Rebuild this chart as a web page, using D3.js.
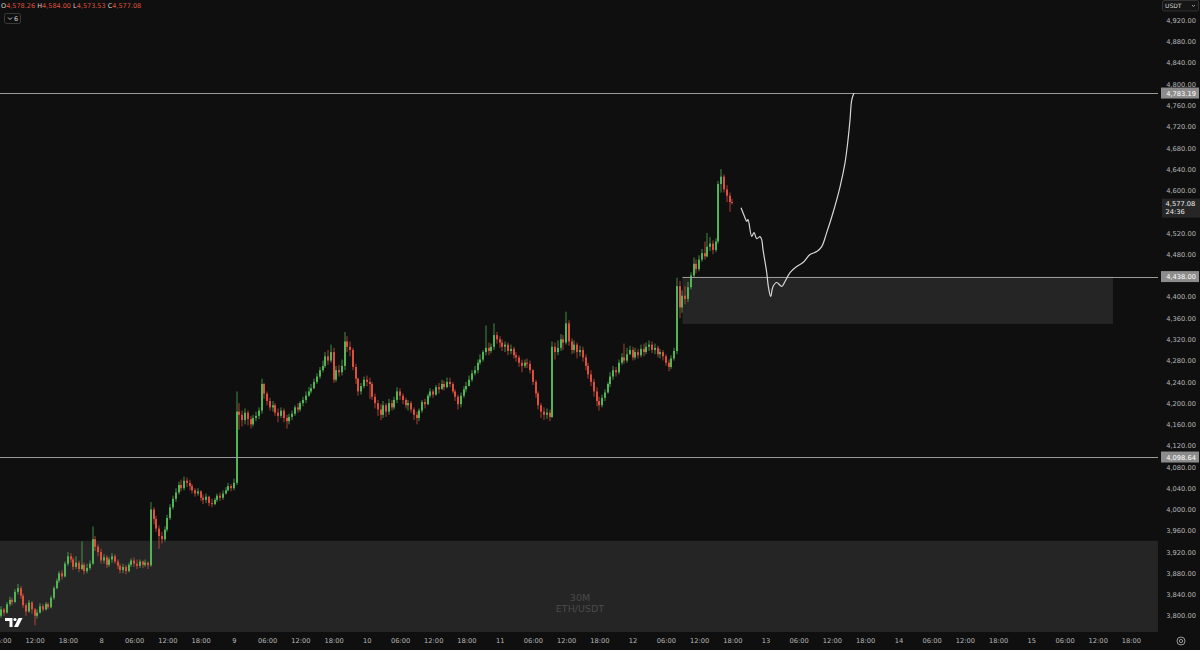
<!DOCTYPE html>
<html><head><meta charset="utf-8">
<script src="https://cdn.jsdelivr.net/npm/d3@7"></script>
<style>
html,body{margin:0;padding:0;background:#0f0f0f;overflow:hidden}
svg{display:block}
text{font-family:"DejaVu Sans",sans-serif}
</style></head><body>
<svg id="chart" width="1200" height="650"></svg>
<script>
// ---------------- DATA ----------------
const symbol = "ETH/USDT";
const interval = "30M";
const quote = "USDT";
const firstCandle = "2025-08-07T05:30:00Z";
const candleMinutes = 30;
const firstOpen = 3790;
const closes = [
3800,3812,3806,3822,3830,3826,3845,3852,3838,3820,
3808,3825,3812,3800,3806,3818,3812,3822,3816,3834,
3852,3866,3880,3874,3898,3912,3906,3892,3900,3888,
3896,3884,3890,3898,3944,3930,3920,3904,3910,3896,
3906,3912,3902,3894,3886,3892,3884,3896,3904,3898,
3894,3902,3896,3900,3895,4000,3982,3964,3950,3944,
3962,3984,4004,4020,4032,4046,4040,4054,4050,4044,
4036,4030,4034,4022,4018,4024,4012,4010,4018,4026,
4022,4030,4036,4044,4040,4050,4184,4178,4168,4182,
4170,4160,4172,4176,4186,4236,4218,4204,4192,4196,
4182,4176,4186,4172,4166,4174,4180,4192,4188,4200,
4206,4214,4222,4228,4240,4250,4262,4270,4288,4280,
4296,4244,4262,4258,4270,4316,4306,4300,4268,4246,
4222,4232,4244,4240,4236,4212,4200,4188,4178,4196,
4184,4200,4192,4206,4222,4214,4206,4196,4200,4188,
4178,4172,4186,4202,4198,4214,4222,4216,4230,4226,
4236,4230,4240,4236,4222,4212,4198,4214,4226,4232,
4244,4256,4262,4276,4282,4296,4304,4298,4306,4328,
4320,4314,4306,4310,4298,4302,4290,4286,4276,4270,
4276,4274,4262,4240,4218,4196,4184,4178,4182,4174,
4306,4296,4304,4320,4314,4350,4316,4300,4310,4296,
4300,4286,4270,4254,4240,4222,4204,4196,4210,4220,
4236,4250,4262,4258,4276,4286,4280,4292,4300,4286,
4296,4290,4302,4296,4306,4310,4300,4304,4292,4296,
4288,4276,4268,4284,4298,4420,4380,4402,4396,4418,
4440,4462,4452,4470,4482,4476,4494,4500,4488,4504,
4612,4626,4602,4590,4578.26,4577.08
];
const highs = [
3805,3818,3815,3826,3836,3834,3850,3860,3856,3842,
3824,3830,3828,3815,3812,3824,3822,3826,3825,3838,
3856,3870,3884,3886,3902,3920,3918,3910,3912,3904,
3940,3900,3898,3904,3968,3950,3934,3926,3916,3914,
3910,3918,3916,3906,3898,3898,3896,3900,3908,3910,
3906,3906,3904,3906,3902,4014,4004,3988,3970,3958,
3968,3990,4010,4026,4040,4052,4056,4062,4060,4056,
4048,4040,4040,4036,4028,4030,4026,4020,4022,4030,
4032,4036,4042,4050,4048,4058,4222,4200,4186,4190,
4186,4176,4178,4184,4192,4246,4238,4222,4210,4204,
4200,4190,4192,4190,4178,4180,4186,4196,4200,4204,
4212,4222,4230,4236,4246,4256,4268,4280,4296,4300,
4310,4304,4270,4272,4282,4334,4326,4316,4304,4274,
4248,4238,4250,4252,4248,4240,4218,4206,4198,4204,
4200,4208,4206,4212,4230,4228,4218,4210,4206,4204,
4192,4184,4190,4206,4208,4218,4228,4226,4234,4238,
4244,4242,4248,4248,4240,4226,4216,4220,4232,4240,
4252,4262,4270,4282,4292,4300,4346,4314,4312,4350,
4334,4326,4320,4316,4314,4310,4306,4296,4290,4282,
4282,4284,4280,4264,4244,4222,4200,4192,4190,4188,
4316,4314,4318,4330,4328,4372,4356,4322,4318,4314,
4308,4306,4292,4276,4262,4246,4230,4212,4216,4226,
4240,4258,4270,4268,4282,4294,4312,4304,4308,4306,
4304,4302,4310,4312,4314,4318,4316,4312,4308,4302,
4300,4292,4282,4290,4304,4436,4430,4412,4420,4428,
4446,4474,4470,4478,4490,4504,4520,4512,4506,4510,
4618,4640,4630,4610,4596,4584.00
];
const lows = [
3778,3796,3800,3804,3818,3820,3824,3840,3832,3815,
3800,3806,3804,3782,3795,3804,3808,3810,3812,3814,
3830,3850,3862,3868,3872,3894,3900,3886,3888,3882,
3886,3878,3880,3886,3896,3922,3912,3898,3898,3890,
3892,3900,3898,3888,3880,3880,3878,3882,3892,3892,
3888,3890,3890,3892,3888,3892,3972,3958,3926,3936,
3940,3958,3980,4000,4014,4028,4034,4036,4042,4036,
4030,4024,4026,4016,4010,4012,4006,4004,4008,4014,
4016,4018,4028,4034,4034,4036,4046,4150,4156,4160,
4158,4152,4156,4166,4170,4180,4208,4196,4186,4184,
4176,4164,4172,4164,4152,4160,4168,4176,4182,4184,
4194,4200,4212,4218,4226,4236,4246,4258,4266,4272,
4276,4238,4240,4250,4252,4262,4296,4288,4262,4236,
4214,4216,4228,4232,4208,4206,4190,4176,4168,4172,
4174,4178,4186,4188,4200,4206,4198,4190,4186,4182,
4168,4160,4166,4182,4190,4196,4210,4210,4214,4218,
4226,4224,4228,4230,4218,4204,4188,4192,4210,4220,
4232,4240,4252,4256,4272,4278,4290,4290,4294,4300,
4312,4304,4298,4296,4290,4292,4284,4278,4268,4258,
4266,4266,4256,4234,4210,4188,4172,4168,4170,4166,
4172,4282,4290,4298,4300,4310,4308,4292,4294,4284,
4288,4278,4262,4246,4232,4212,4194,4186,4192,4204,
4218,4230,4244,4250,4254,4272,4274,4276,4290,4280,
4282,4284,4286,4288,4292,4298,4294,4292,4286,4284,
4280,4270,4260,4264,4280,4292,4360,4370,4386,4390,
4414,4436,4444,4448,4466,4470,4474,4486,4480,4484,
4500,4596,4596,4578,4560,4573.53
];
const legendLabels = ["O","H","L","C"];
const legendValues = [4578.26, 4584.00, 4573.53, 4577.08];
const countdown = "24:36";
const levelPrices = [4783.19, 4438.00, 4098.64];
const levelStarts = ["2025-08-06T00:00:00Z","2025-08-12T09:00:00Z","2025-08-06T00:00:00Z"];
const zoneStarts  = ["2025-08-06T00:00:00Z","2025-08-12T09:00:00Z"];
const zoneEnds    = ["2025-08-16T12:00:00Z","2025-08-15T14:45:00Z"];
const zoneTops    = [3941, 4438];
const zoneBottoms = [3700, 4349];
// hand-drawn projection: hours after 2025-08-08 00:00 UTC, price
const forecastHours  = [115.58,116.30,116.61,116.84,117.51,117.93,118.41,119.01,119.31,119.55,120.22,120.51,120.94,121.36,122.02,122.93,123.52,124.43,125.64,126.77,128.04,129.25,130.15,131.05,132.19,133.46,134.36,134.90,135.26,135.57,135.98];
const forecastPrices = [4567.5,4548.8,4541.8,4545.0,4513.7,4520.6,4509.4,4513.0,4507.5,4488.8,4445.6,4419.4,4400.6,4419.4,4426.9,4419.4,4428.8,4445.6,4456.9,4464.4,4479.4,4485.0,4494.4,4520.6,4558.0,4606.9,4651.9,4695.0,4732.5,4770.0,4783.2];
const priceTicks = [3800,3840,3880,3920,3960,4000,4040,4080,4120,4160,4200,4240,4280,4320,4360,4400,4440,4480,4520,4560,4600,4640,4680,4720,4760,4800,4840,4880,4920];
const timeTickStart = "2025-08-07T06:00:00Z";
const timeTickEnd   = "2025-08-15T19:00:00Z";

// ---------------- CHART ----------------
const W = 1200, H = 650, plotRight = 1158, plotBottom = 632;
const upColor = "#51b457", downColor = "#df4f3c";
const svg = d3.select("#chart");
svg.append("rect").attr("width", W).attr("height", H).attr("fill", "#0f0f0f");

const x = d3.scaleUtc()
  .domain([new Date("2025-08-08T00:00:00Z"), new Date("2025-08-15T00:00:00Z")])
  .range([101, 1031.3]);
const y = d3.scaleLinear().domain([3800, 4920]).range([615.8, 20.3]);

svg.append("defs").append("clipPath").attr("id", "plotclip")
  .append("rect").attr("x", 0).attr("y", 0).attr("width", plotRight).attr("height", plotBottom);
const plot = svg.append("g").attr("clip-path", "url(#plotclip)");

// zones
const zones = zoneStarts.map((s, i) => ({s: new Date(s), e: new Date(zoneEnds[i]), t: zoneTops[i], b: zoneBottoms[i]}));
plot.selectAll("rect.zone").data(zones).join("rect").attr("class", "zone")
  .attr("x", d => x(d.s)).attr("width", d => x(d.e) - x(d.s))
  .attr("y", d => y(d.t)).attr("height", d => y(d.b) - y(d.t))
  .attr("fill", "#252525");

// watermark
const wm = svg.append("g").attr("fill", "#4b4b4b").attr("text-anchor", "middle").style("font-size", "9.5px");
wm.append("text").attr("x", 580).attr("y", 601).text(interval);
wm.append("text").attr("x", 580).attr("y", 612).text(symbol);

// candles
const t0 = new Date(firstCandle).getTime();
const candles = closes.map((c, i) => ({
  t: new Date(t0 + i * candleMinutes * 60000),
  o: i === 0 ? firstOpen : closes[i - 1], h: highs[i], l: lows[i], c
}));
const bw = 2;
const cg = plot.append("g");
cg.selectAll("rect.wick").data(candles).join("rect").attr("class", "wick")
  .attr("x", d => Math.round(x(d.t) - bw / 2) + 0.5).attr("width", 1)
  .attr("y", d => y(d.h)).attr("height", d => Math.max(1, y(d.l) - y(d.h)))
  .attr("fill", d => d.c >= d.o ? upColor : downColor).attr("opacity", 0.75);
cg.selectAll("rect.body").data(candles).join("rect").attr("class", "body")
  .attr("x", d => Math.round(x(d.t) - bw / 2)).attr("width", bw)
  .attr("y", d => y(Math.max(d.o, d.c))).attr("height", d => Math.max(1, Math.abs(y(d.o) - y(d.c))))
  .attr("fill", d => d.c >= d.o ? upColor : downColor);

// levels
const levels = levelPrices.map((p, i) => ({p, s: new Date(levelStarts[i])}));
plot.selectAll("line.level").data(levels).join("line").attr("class", "level")
  .attr("x1", d => x(d.s)).attr("x2", plotRight)
  .attr("y1", d => Math.round(y(d.p)) + 0.5).attr("y2", d => Math.round(y(d.p)) + 0.5)
  .attr("stroke", "#9a9a9a").attr("stroke-width", 1);

// forecast path
const ref = new Date("2025-08-08T00:00:00Z").getTime();
const fc = forecastHours.map((h, i) => ({t: new Date(ref + h * 3600000), p: forecastPrices[i]}));
plot.append("path").datum(fc)
  .attr("d", d3.line().x(d => x(d.t)).y(d => y(d.p)).curve(d3.curveCatmullRom.alpha(0.5)))
  .attr("fill", "none").attr("stroke", "#d6d6d6").attr("stroke-width", 1.2);

// y axis (labels hidden where a price box covers them)
const last = candles[candles.length - 1];
const covered = p => levelPrices.some(l => Math.abs(y(p) - y(l)) < 8) ||
  (y(p) > y(last.c) - 6 && y(p) < y(last.c) + 17);
const yAxis = svg.append("g").attr("transform", `translate(1196,0)`)
  .call(d3.axisLeft(y).tickValues(priceTicks.filter(p => !covered(p)))
    .tickFormat(d3.format(",.2f")).tickSize(0).tickPadding(0));
yAxis.select(".domain").remove();
yAxis.selectAll("text").attr("fill", "#b9b9b9").style("font-size", "6.7px").attr("font-family", "DejaVu Sans");

// x axis
const timeTicks = d3.utcHour.range(new Date(timeTickStart), new Date(timeTickEnd), 6);
const fmtH = d3.utcFormat("%H:%M"), fmtD = d3.utcFormat("%-d");
const xAxis = svg.append("g").attr("transform", `translate(0,${plotBottom})`)
  .call(d3.axisBottom(x).tickValues(timeTicks).tickFormat(d => d.getUTCHours() === 0 ? fmtD(d) : fmtH(d)).tickSize(0).tickPadding(6));
xAxis.select(".domain").remove();
xAxis.selectAll("text").attr("fill", "#b9b9b9").style("font-size", "6.7px").attr("font-family", "DejaVu Sans");

// level labels on axis
const fmtP = d3.format(",.2f");
const lab = svg.append("g").selectAll("g").data(levels).join("g")
  .attr("transform", d => `translate(1161,${y(d.p)})`);
lab.append("rect").attr("x", 0).attr("y", -5.5).attr("width", 38).attr("height", 11).attr("fill", "#8c8c8c");
lab.append("text").attr("x", 35).attr("y", 2.5).attr("text-anchor", "end").attr("fill", "#ffffff")
  .style("font-size", "6.7px").text(d => fmtP(d.p));

// current price label
const cp = svg.append("g").attr("transform", `translate(1162,${y(last.c)})`);
cp.append("rect").attr("x", 0).attr("y", -4).attr("width", 38).attr("height", 19).attr("fill", "#262626");
cp.append("text").attr("x", 3.5).attr("y", 3).attr("fill", "#f0f0f0").style("font-size", "6.7px").text(fmtP(last.c));
cp.append("text").attr("x", 3.5).attr("y", 11.5).attr("fill", "#f0f0f0").style("font-size", "6.7px").text(countdown);

// legend (top-left)
const lg = svg.append("text").attr("x", 1).attr("y", 7.5).style("font-size", "6.5px");
legendLabels.forEach((l, i) => {
  lg.append("tspan").attr("fill", "#d0d0d0").text((i ? " " : "") + l);
  lg.append("tspan").attr("fill", downColor).text(fmtP(legendValues[i]));
});
const cnt = svg.append("g").attr("transform", "translate(4,13)");
cnt.append("rect").attr("x", 0.5).attr("y", 0.5).attr("width", 16).attr("height", 10).attr("rx", 2)
  .attr("fill", "none").attr("stroke", "#3a3a3a");
cnt.append("path").attr("d", "M4,4.5 L6,6.5 L8,4.5").attr("fill", "none").attr("stroke", "#cfcfcf").attr("stroke-width", 0.9);
cnt.append("text").attr("x", 10).attr("y", 8).attr("fill", "#cfcfcf").style("font-size", "6.5px").text("6");

// currency box (top-right)
const cur = svg.append("g").attr("transform", "translate(1162,0)");
cur.append("rect").attr("x", 0.5).attr("y", 0.5).attr("width", 36).attr("height", 10.5).attr("rx", 1.5)
  .attr("fill", "#151515").attr("stroke", "#333");
cur.append("text").attr("x", 3).attr("y", 8).attr("fill", "#d8d8d8").style("font-size", "6px").text(quote);
cur.append("path").attr("d", "M30,5 L31.5,6.5 L33,5").attr("fill", "none").attr("stroke", "#bbb").attr("stroke-width", 0.8);

// settings icon (bottom-right)
const gear = svg.append("g").attr("transform", "translate(1181,641)").attr("fill", "none").attr("stroke", "#9a9a9a");
gear.append("circle").attr("r", 4).attr("stroke-width", 1);
gear.append("circle").attr("r", 1.6).attr("stroke-width", 1);

// logo (bottom-left)
const logo = svg.append("g").attr("fill", "#ffffff");
logo.append("path").attr("d", "M5,618 H12.5 V627 H9.5 V621 H5 Z");
logo.append("circle").attr("cx", 15).attr("cy", 619.5).attr("r", 1.6);
logo.append("path").attr("d", "M18.5,618 H22.5 L18,627 H14 Z");
</script>
</body></html>
